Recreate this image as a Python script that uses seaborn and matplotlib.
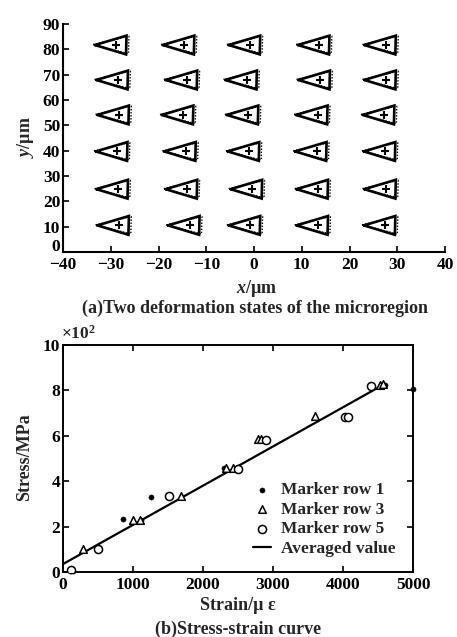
import numpy as np
import pandas as pd
import matplotlib
matplotlib.use("Agg")
import matplotlib.pyplot as plt
import matplotlib.transforms as mtrans
import seaborn as sns

# ---------------- data ----------------
# (a) marker centres (x, y in micrometres), rows from top to bottom
row_y = [81.7, 67.9, 54.1, 39.7, 24.8, 10.5]
col_x_rows = [
    [-28.8, -14.6, -0.8, 13.7, 27.6],
    [-28.5, -14.0, -1.5, 13.8, 27.6],
    [-28.3, -14.8, -1.2, 13.3, 27.3],
    [-28.6, -14.3, -1.0, 13.1, 27.5],
    [-28.5, -14.0, -0.4, 13.4, 27.6],
    [-28.3, -13.5, -0.8, 13.4, 27.5],
]
# triangle outline template relative to centre (state 1 solid, state 2 dotted)
tri1_dx = [-4.5, 2.1, 2.0, -4.5]
tri1_dy = [0.0, 3.7, -3.7, 0.0]
tri2_dx = [-4.9, 2.6, 2.5, -4.9]
tri2_dy = [0.2, 3.5, -3.4, 0.2]

# (b) stress-strain data (strain in micro-strain, stress in MPa)
row1_strain = [95, 120, 140, 857, 1262, 1120, 2295, 4560, 4600, 5000]
row1_stress = [5, 6, 5, 233, 330, 230, 457, 825, 825, 805]
row3_strain = [286, 1000, 1095, 1690, 2333, 2430, 2786, 2830, 3595, 4524, 4570]
row3_stress = [101, 230, 230, 337, 457, 460, 585, 585, 688, 824, 826]
row5_strain = [120, 500, 1510, 2500, 2905, 4024, 4071, 4405]
row5_stress = [7, 101, 333, 455, 582, 685, 685, 821]
avg_strain = [0, 4500]
avg_stress = [35, 812]

x_ticks_a = [-40, -30, -20, -10, 0, 10, 20, 30, 40]
y_ticks_a = [0, 10, 20, 30, 40, 50, 60, 70, 80, 90]
x_ticks_b = [0, 1000, 2000, 3000, 4000, 5000]
y_ticks_b = [0, 2, 4, 6, 8, 10]

# ---------------- style ----------------
sns.set_theme(style="ticks")
plt.rcParams['font.family'] = ['Liberation Serif', 'DejaVu Serif']
plt.rcParams['font.weight'] = 'bold'
plt.rcParams['mathtext.fontset'] = 'custom'
plt.rcParams['mathtext.it'] = 'Liberation Serif:italic:bold'
plt.rcParams['mathtext.rm'] = 'Liberation Serif:bold'

W, H = 457, 637
fig = plt.figure(figsize=(W / 100, H / 100), dpi=100)

def px(x, y):
    return x / W, 1 - y / H

tick_fs = 12.5

# ---------------- panel (a) ----------------
axa = fig.add_axes([63 / W, 1 - 252 / H, 382 / W, 228 / H])
for yi, xs in zip(row_y, col_x_rows):
    for xc in xs:
        axa.plot([xc + d for d in tri2_dx], [yi + d for d in tri2_dy],
                 color='black', lw=1.0, ls=(0, (1, 1.2)))
        axa.plot([xc + d for d in tri1_dx], [yi + d for d in tri1_dy],
                 color='black', lw=1.9, solid_joinstyle='miter')
cent = pd.DataFrame({
    'x': [x for xs in col_x_rows for x in xs],
    'y': [y for y, xs in zip(row_y, col_x_rows) for _ in xs],
})
sns.scatterplot(data=cent, x='x', y='y', marker='+', s=30, color='black',
                linewidth=1.5, ax=axa, legend=False)
axa.set_xlim(-40, 40)
axa.set_ylim(0, 90)
axa.set_xticks(x_ticks_a)
axa.set_yticks(y_ticks_a)
axa.set_xlabel('')
axa.set_ylabel('')
sns.despine(ax=axa)
for s in ['left', 'bottom']:
    axa.spines[s].set_linewidth(1.5)
    axa.spines[s].set_color('black')
axa.tick_params(direction='in', length=4, width=1.2, labelsize=tick_fs,
                colors='black', pad=2)
axa.tick_params(axis='x', pad=3.5)
# raise the y "0" label a little, as in the reference
lab0 = axa.get_yticklabels()[0]
lab0.set_transform(lab0.get_transform() +
                   mtrans.ScaledTranslation(0, 7 / 100, fig.dpi_scale_trans))

fig.text(*px(257, 288), r'$x$/µm', ha='center', va='center', fontsize=13)
fig.text(*px(25, 137), r'$y$/µm', ha='center', va='center', fontsize=13,
         rotation=90)
fig.text(*px(255, 308), '(a)Two deformation states of the microregion',
         ha='center', va='center', fontsize=13)

# ---------------- panel (b) ----------------
axb = fig.add_axes([63 / W, 1 - 572 / H, 350 / W, 227 / H])
d1 = pd.DataFrame({'strain': row1_strain, 'stress': np.array(row1_stress) / 100})
d3 = pd.DataFrame({'strain': row3_strain, 'stress': np.array(row3_stress) / 100})
d5 = pd.DataFrame({'strain': row5_strain, 'stress': np.array(row5_stress) / 100})
da = pd.DataFrame({'strain': avg_strain, 'stress': np.array(avg_stress) / 100})

sns.scatterplot(data=d1, x='strain', y='stress', marker='o', s=14,
                color='black', edgecolor='black', ax=axb,
                label='Marker row 1', clip_on=False, zorder=3)
sns.scatterplot(data=d3, x='strain', y='stress', marker='^', s=30,
                facecolor='white', edgecolor='black', linewidth=1.1, ax=axb,
                label='Marker row 3', zorder=3)
sns.scatterplot(data=d5, x='strain', y='stress', marker='o', s=34,
                facecolor='white', edgecolor='black', linewidth=1.1, ax=axb,
                label='Marker row 5', zorder=3)
sns.lineplot(data=da, x='strain', y='stress', color='black', lw=1.6, ax=axb,
             label='Averaged value', zorder=2)

axb.set_xlim(0, 5000)
axb.set_ylim(0, 10)
axb.set_xticks(x_ticks_b)
axb.set_yticks(y_ticks_b)
axb.set_xlabel('')
axb.set_ylabel('')
for s in axb.spines.values():
    s.set_linewidth(1.4)
    s.set_color('black')
    s.set_visible(True)
axb.tick_params(direction='in', length=4, width=1.2, labelsize=tick_fs,
                colors='black', top=True, right=True, pad=2)
axb.tick_params(axis='x', pad=3.5)

leg = axb.legend(loc='lower right', frameon=False, fontsize=12.5,
                 handlelength=1.0, handletextpad=0.6, labelspacing=0.2,
                 borderaxespad=0.0, bbox_to_anchor=(0.97, 0.035))

fig.text(*px(61, 334), r'$\times$10$^2$', ha='left', va='center', fontsize=12.5)
fig.text(*px(238, 605), 'Strain/µ ε', ha='center', va='center', fontsize=13)
fig.text(*px(25, 457), 'Stress/MPa', ha='center', va='center', fontsize=13,
         rotation=90)
fig.text(*px(238, 629), '(b)Stress-strain curve', ha='center', va='center',
         fontsize=13)

fig.savefig('out.png', dpi=100)
